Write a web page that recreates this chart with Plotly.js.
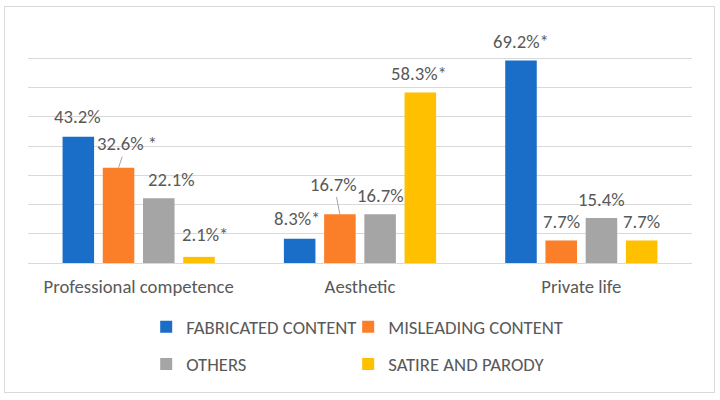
<!DOCTYPE html>
<html>
<head>
<meta charset="utf-8">
<script src="https://cdn.plot.ly/plotly-3.0.1.min.js"></script>
<style>
  html, body { margin: 0; padding: 0; background: #ffffff; }
  #wrap { position: relative; width: 720px; height: 400px; }
  #chart { position: absolute; left: 0; top: 0; width: 720px; height: 400px; }
  #frame { position: absolute; left: 4px; top: 6px; width: 709px; height: 385px;
           border: 1px solid #d9d9d9; pointer-events: none; }
</style>
</head>
<body>
<div id="wrap">
  <div id="chart"></div>
  <div id="frame"></div>
</div>
<script>
// ---- Data ----
const categories = ["Professional competence", "Aesthetic", "Private life"];
const seriesNames = ["FABRICATED CONTENT", "MISLEADING CONTENT", "OTHERS", "SATIRE AND PARODY"];
const fabricated = [43.2, 8.3, 69.2];
const misleading = [32.6, 16.7, 7.7];
const others = [22.1, 16.7, 15.4];
const satire = [2.1, 58.3, 7.7];
const fabricatedLabels = ["43.2%", "8.3%*", "69.2%*"];
const misleadingLabels = ["32.6% *", "16.7%", "7.7%"];
const othersLabels = ["22.1%", "16.7%", "15.4%"];
const satireLabels = ["2.1%*", "58.3%*", "7.7%"];

// ---- Style ----
const colors = ["#1a6ec8", "#fb7e29", "#a5a5a5", "#ffc000"];
const FONT = "Carlito, Lato, 'Open Sans', sans-serif";
const FS = 18.7;
const TXT = "#595959";
const GRID = "#d9d9d9";
const W = 720, H = 400;
const M = { l: 28, r: 28, t: 29, b: 137 };
const bargap = 0.273, bargroupgap = 0.216;

const values = [fabricated, misleading, others, satire];
const labels = [fabricatedLabels, misleadingLabels, othersLabels, satireLabels];

// label placement tweaks (px): [dx, dy, leader]
const labelStyle = [
  [[-1, -20, false], [-3, -20, false], [0, -19, false]],
  [[8, -24, true], [-6, -30, true], [0, -19, false]],
  [[13, -19, false], [0, -19, false], [0, -18, false]],
  [[6, -22, false], [-1, -19, false], [0, -19, false]]
];

const plotW = W - M.l - M.r;
const catW = plotW / categories.length;
const slotW = catW * (1 - bargap) / values.length;

// legend columns: col 1 = FABRICATED / OTHERS, col 2 = MISLEADING / SATIRE
const legendFor = ["legend", "legend2", "legend", "legend2"];
const traces = values.map((v, i) => ({
  type: "bar",
  name: seriesNames[i],
  x: categories,
  y: v,
  marker: { color: colors[i] },
  legend: legendFor[i],
  legendgroup: "g" + i,
  hoverinfo: "skip"
}));

const annotations = [];
values.forEach((v, i) => {
  const slotOffset = (i - (values.length - 1) / 2) * slotW;
  v.forEach((val, j) => {
    const [dx, dy, leader] = labelStyle[i][j];
    const base = {
      x: categories[j], y: val, xref: "x", yref: "y",
      text: labels[i][j],
      font: { family: FONT, size: FS, color: TXT },
      xshift: slotOffset
    };
    if (leader) {
      annotations.push(Object.assign(base, {
        showarrow: true, arrowhead: 0, arrowwidth: 1, arrowcolor: "#a6a6a6",
        ax: dx, ay: dy, standoff: 0, startstandoff: 0
      }));
    } else {
      annotations.push(Object.assign(base, {
        showarrow: false, xshift: slotOffset + dx, yshift: -dy,
        xanchor: "center", yanchor: "middle"
      }));
    }
  });
});

const legendCommon = {
  orientation: "v",
  xanchor: "left",
  yanchor: "middle",
  tracegroupgap: 10,
  font: { family: FONT, size: FS, color: TXT },
  bgcolor: "rgba(0,0,0,0)",
  traceorder: "grouped",
  itemclick: false
};

const layout = {
  width: W, height: H,
  margin: M,
  paper_bgcolor: "#ffffff",
  plot_bgcolor: "#ffffff",
  barmode: "group",
  bargap: bargap,
  bargroupgap: bargroupgap,
  font: { family: FONT, size: FS, color: TXT },
  xaxis: {
    type: "category",
    showgrid: false,
    showline: false,
    ticks: "",
    tickfont: { family: FONT, size: FS, color: TXT },
    ticklabelstandoff: 10,
    fixedrange: true
  },
  yaxis: {
    range: [0, 80.01],
    dtick: 10,
    tick0: 0,
    showgrid: true,
    gridcolor: GRID,
    gridwidth: 1,
    zeroline: true,
    zerolinecolor: GRID,
    zerolinewidth: 1,
    showticklabels: false,
    ticks: "",
    fixedrange: true
  },
  legend: Object.assign({}, legendCommon, { x: 0.178, y: -0.3526 }),
  legend2: Object.assign({}, legendCommon, { x: 0.4822, y: -0.3526 }),
  annotations: annotations,
  showlegend: true
};

Plotly.newPlot("chart", traces, layout, { displayModeBar: false, staticPlot: true });
</script>
</body>
</html>
